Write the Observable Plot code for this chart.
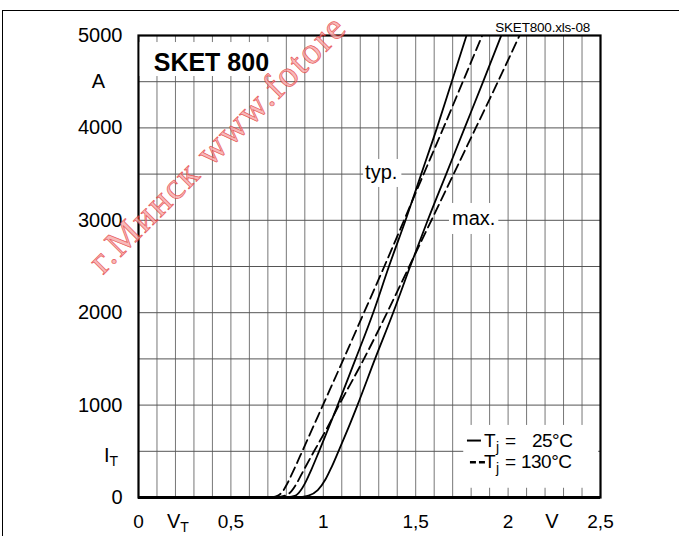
<!DOCTYPE html>
<html><head><meta charset="utf-8">
<script src="https://cdn.jsdelivr.net/npm/d3@7"></script>
<script src="https://cdn.jsdelivr.net/npm/@observablehq/plot@0.6"></script>
<style>
body{margin:0;background:#fff;}
#wrap{position:relative;width:679px;height:536px;overflow:hidden;background:#fff}
#frame{position:absolute;left:2px;top:10px;width:700px;height:600px;border-top:1.5px solid #000;border-left:1.5px solid #000}
#wrap svg{position:absolute;left:0;top:0}
</style>
</head><body>
<div id="wrap"><div id="frame"></div></div>
<script>
// ---- data ----
const typ25_I = [0, 20, 70, 170, 300, 500, 750, 1000, 1500, 2000, 2500, 3000, 3500, 4000, 4500, 5000];
const typ25_V = [0.80, 0.85, 0.875, 0.905, 0.935, 0.977, 1.028, 1.078, 1.175, 1.27, 1.355, 1.445, 1.53, 1.615, 1.695, 1.775];
const typ130_I = [0, 20, 60, 150, 280, 500, 750, 1000, 1500, 2000, 2500, 3000, 3500, 4000, 4500, 5000];
const typ130_V = [0.72, 0.755, 0.778, 0.805, 0.836, 0.886, 0.942, 0.998, 1.11, 1.22, 1.33, 1.437, 1.543, 1.65, 1.755, 1.86];
const max25_I = [0, 20, 80, 200, 330, 500, 750, 1000, 1500, 2000, 2500, 3000, 3500, 4000, 4500, 5000];
const max25_V = [0.86, 0.92, 0.97, 1.013, 1.045, 1.082, 1.135, 1.185, 1.28, 1.378, 1.47, 1.565, 1.665, 1.765, 1.865, 1.963];
const max130_I = [0, 25, 75, 150, 300, 500, 750, 1000, 1500, 2000, 2500, 3000, 3500, 4000, 4500, 5000];
const max130_V = [0.74, 0.80, 0.83, 0.855, 0.895, 0.95, 1.02, 1.085, 1.22, 1.345, 1.465, 1.585, 1.705, 1.825, 1.945, 2.062];

const xTicks = [0, 0.5, 1, 1.5, 2, 2.5];
const yTicks = [0, 1000, 2000, 3000, 4000, 5000];
const xGrid = [0.1,0.2,0.3,0.4,0.5,0.6,0.7,0.8,0.9,1.0,1.1,1.2,1.3,1.4,1.5,1.6,1.7,1.8,1.9,2.0,2.1,2.2,2.3,2.4];
const yGrid = [500,1000,1500,2000,2500,3000,3500,4000,4500];

const FONT = "'Liberation Sans', Arial, Helvetica, sans-serif";

const toRows = (V, I, series) => V.map((v, k) => ({v, i: I[k], series}));
const solidRows = [...toRows(typ25_V, typ25_I, "typ25"), ...toRows(max25_V, max25_I, "max25")];
const dashRows = [...toRows(typ130_V, typ130_I, "typ130"), ...toRows(max130_V, max130_I, "max130")];

const chart = Plot.plot({
  width: 679, height: 536,
  marginLeft: 138, marginRight: 79, marginTop: 35, marginBottom: 39,
  x: {domain: [0, 2.5]},
  y: {domain: [0, 5000]},
  style: {fontFamily: FONT, fontSize: "20px", background: "transparent", overflow: "visible", color: "#000"},
  marks: [
    Plot.ruleX(xGrid, {stroke: "#777", strokeWidth: 1}),
    Plot.ruleY(yGrid, {stroke: "#555", strokeWidth: 1}),
    Plot.line(dashRows, {x: "v", y: "i", z: "series", curve: "monotone-x", stroke: "#000", strokeWidth: 1.8, strokeDasharray: "10,5", clip: true}),
    Plot.line(solidRows, {x: "v", y: "i", z: "series", curve: "monotone-x", stroke: "#000", strokeWidth: 1.8, clip: true}),
    Plot.frame({stroke: "#000", strokeWidth: 2.2}),
    Plot.ruleY([0], {stroke: "#000", strokeWidth: 3}),
    Plot.axisY(yTicks, {tickSize: 0, tickPadding: 16, fontSize: 20, label: null, tickFormat: d => String(d)}),
    Plot.axisX(xTicks, {tickSize: 0, tickPadding: 17, fontSize: 19, label: null, tickFormat: d => String(d).replace(".", ",")})
  ]
});
document.getElementById("wrap").appendChild(chart);

const sx = chart.scale("x"), sy = chart.scale("y");
const X = v => sx.apply(v), Y = i => sy.apply(i);
const svg = d3.select(chart);
const g = svg.append("g").attr("font-family", FONT).attr("fill", "#000").attr("text-anchor", "start");

// boxed labels (white background clears the grid)
function boxed(text, x, y, size, weight, pad) {
  const t = g.append("text").attr("x", x).attr("y", y).attr("font-size", size).attr("font-weight", weight).text(text);
  const b = t.node().getBBox();
  g.insert("rect", () => t.node())
    .attr("x", b.x - pad[3]).attr("y", b.y - pad[0])
    .attr("width", b.width + pad[1] + pad[3]).attr("height", b.height + pad[0] + pad[2])
    .attr("fill", "#fff");
}
boxed("SKET 800", X(0.085), Y(4610), 25, "bold", [6, 9, 0, 14]);
boxed("typ.", X(1.229), Y(3442), 20, "normal", [2, 4, 4, 2]);
boxed("max.", X(1.699), Y(2944), 20, "normal", [4, 3, 5, 3]);

// legend
const lx0 = X(1.76), lx1 = X(2.49), ly0 = Y(780), ly1 = Y(100);
g.append("rect").attr("x", lx0).attr("y", ly0).attr("width", lx1 - lx0).attr("height", ly1 - ly0).attr("fill", "#fff");
const b1 = Y(546), b2 = Y(311), L = X(1.78);
g.append("line").attr("x1", L).attr("x2", L + 14).attr("y1", b1 - 6).attr("y2", b1 - 6).attr("stroke", "#000").attr("stroke-width", 2);
g.append("line").attr("x1", L + 3).attr("x2", L + 18).attr("y1", b2 - 6).attr("y2", b2 - 6).attr("stroke", "#000").attr("stroke-width", 2.5).attr("stroke-dasharray", "6,3");
[[b1, "=", "25°C", 65], [b2, "=", "130°C", 54]].forEach(([b, eq, val, dx]) => {
  g.append("text").attr("x", L + 17).attr("y", b).attr("font-size", 19).text("T");
  g.append("text").attr("x", L + 29).attr("y", b + 5).attr("font-size", 14).text("j");
  g.append("text").attr("x", L + 38).attr("y", b).attr("font-size", 19).text(eq);
  g.append("text").attr("x", L + dx).attr("y", b).attr("font-size", 19).attr("letter-spacing", -0.5).text(val);
});

// axis unit labels
g.append("text").attr("x", X(-0.214)).attr("y", Y(4426)).attr("text-anchor", "middle").attr("font-size", 20).text("A");
const it = g.append("text").attr("x", X(-0.184)).attr("y", Y(379)).attr("font-size", 20);
it.append("tspan").text("I");
it.append("tspan").attr("font-size", 14).attr("dy", 4).text("T");
const vt = g.append("text").attr("x", X(0.157)).attr("y", Y(-336)).attr("font-size", 20);
vt.append("tspan").text("V");
vt.append("tspan").attr("font-size", 14).attr("dy", 4).text("T");
g.append("text").attr("x", X(2.24)).attr("y", Y(-336)).attr("text-anchor", "middle").attr("font-size", 20).text("V");

// file tag
g.append("text").attr("x", X(2.446)).attr("y", Y(5032)).attr("text-anchor", "end").attr("font-size", 13.5).attr("letter-spacing", -0.2).text("SKET800.xls-08");

// watermark
svg.append("text")
  .attr("transform", `translate(${X(-0.19)},${Y(2400)}) rotate(-45)`)
  .attr("text-anchor", "start")
  .attr("font-family", "'Liberation Serif', 'DejaVu Serif', serif")
  .attr("font-size", 37).attr("letter-spacing", 2)
  .attr("fill", "#f7a8a8").attr("stroke", "#e33030").attr("stroke-width", 0.7).attr("opacity", 0.8)
  .text("г.Минск www.fotore");
</script>
</body></html>
